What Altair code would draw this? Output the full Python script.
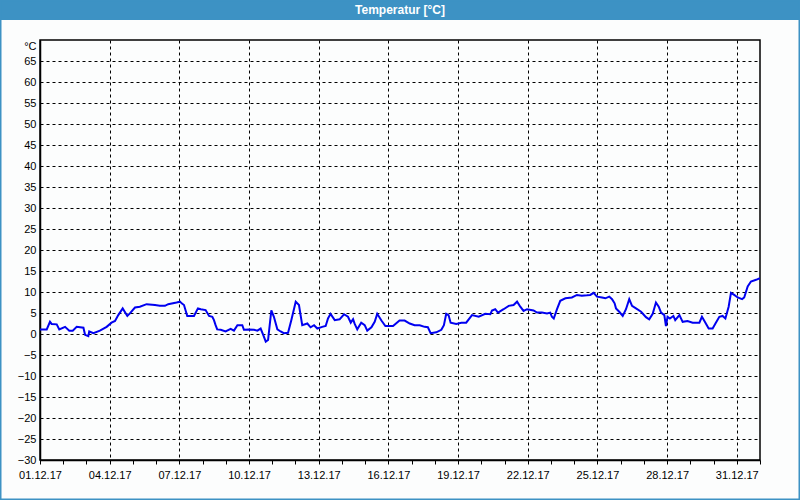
import altair as alt
import pandas as pd

# day offsets from 01.12.2017 00:00 (UTC) and temperature readings in °C
day_offsets = [
    0.00, 0.29, 0.43, 0.50, 0.72, 0.83, 1.08, 1.26, 1.41, 1.58, 1.87, 1.94, 2.08, 2.12,
    2.30, 2.58, 2.87, 3.08, 3.23, 3.37, 3.56, 3.76, 3.87, 4.09, 4.30, 4.59, 4.95, 5.16,
    5.38, 5.52, 5.88, 6.03, 6.10,
    6.20, 6.34, 6.63, 6.80, 6.92, 7.13, 7.28, 7.42, 7.49, 7.56, 7.63, 7.78, 7.99, 8.21,
    8.35, 8.50, 8.71, 8.78, 9.00, 9.21, 9.36, 9.50, 9.61, 9.72, 9.82, 9.96, 10.07, 10.22,
    10.36, 10.50, 10.68, 10.82, 11.01, 11.15, 11.29, 11.51, 11.65, 11.80, 11.94, 12.15, 12.30,
    12.40, 12.51, 12.69, 12.90, 13.09, 13.26, 13.38, 13.48, 13.55, 13.66, 13.83, 13.98, 14.09,
    14.27, 14.41, 14.52, 14.70, 14.87, 15.20, 15.48, 15.70, 15.92, 16.13, 16.35, 16.56, 16.70,
    16.82, 17.06, 17.28, 17.39, 17.49, 17.59, 17.68, 17.92, 18.14, 18.35,
    18.60, 18.89, 19.17, 19.39, 19.46, 19.60, 19.72, 19.96, 20.18, 20.39, 20.54, 20.68, 20.82,
    20.97, 21.25, 21.40, 21.61, 21.83, 21.97, 22.04, 22.12, 22.26, 22.40, 22.62, 22.90, 23.12,
    23.33, 23.55, 23.69, 23.84, 23.98, 24.20, 24.34, 24.51, 24.63, 24.74,
    24.80, 24.94, 25.09, 25.23, 25.37, 25.49, 25.66, 25.88, 26.09, 26.23, 26.38, 26.52, 26.64,
    26.74, 26.88, 26.95, 27.02, 27.12, 27.27, 27.35, 27.53, 27.67, 27.88, 28.10, 28.39, 28.50,
    28.65, 28.79, 28.96, 29.10, 29.25, 29.39, 29.51, 29.65, 29.75, 29.89, 30.04, 30.23, 30.32,
    30.47, 30.61, 30.83, 31.00,
]
temperatures = [
    1.1, 1.1, 2.9, 2.4, 2.3, 1.1, 1.7, 0.8, 0.8, 1.7, 1.5, -0.2, -0.5, 0.6,
    0.2, 0.8, 1.7, 2.7, 3.1, 4.5, 6.1, 4.3, 4.9, 6.3, 6.5, 7.1, 6.9, 6.7,
    6.7, 7.1, 7.5, 7.7, 7.3,
    6.9, 4.3, 4.3, 6.1, 5.9, 5.7, 4.3, 4.1, 3.3, 2.1, 1.1, 1.0, 0.6, 1.2,
    0.8, 2.1, 2.1, 1.0, 1.1, 1.0, 0.8, 1.3, -0.2, -1.8, -1.4, 5.6, 4.1, 1.1,
    0.6, 0.2, 0.3, 3.3, 7.7, 6.9, 2.1, 2.5, 1.6, 2.1, 1.3, 1.7, 1.9,
    3.7, 4.8, 3.3, 3.5, 4.7, 4.1, 2.7, 3.5, 2.4, 1.1, 2.7, 2.1, 0.8,
    1.6, 2.9, 4.8, 3.2, 1.9, 1.9, 3.2, 3.2, 2.5, 2.1, 2.1, 1.7, 1.6,
    0.2, 0.4, 1.0, 2.1, 4.8, 4.5, 2.7, 2.4, 2.7, 2.7,
    4.5, 4.1, 4.8, 4.7, 5.6, 5.9, 5.1, 5.9, 6.7, 6.9, 7.7, 6.5, 5.5,
    5.9, 5.6, 5.1, 5.1, 4.9, 5.1, 4.1, 3.7, 5.9, 7.9, 8.5, 8.7, 9.3,
    9.1, 9.2, 9.3, 9.8, 8.9, 8.7, 8.5, 8.9, 8.3, 7.3,
    6.1, 5.3, 4.3, 5.9, 8.3, 6.7, 6.1, 5.3, 4.0, 3.5, 4.8, 7.5, 6.5,
    5.1, 4.5, 1.9, 4.1, 3.7, 4.3, 3.3, 4.5, 2.9, 3.1, 2.7, 2.7, 4.1,
    2.7, 1.3, 1.3, 2.7, 4.1, 4.3, 3.7, 6.5, 9.8, 9.3, 8.7, 8.3, 8.7,
    11.3, 12.5, 12.9, 13.3,
]
y_ticks = list(range(-30, 70, 5))
chart_title = ["Temperatur [°C]"]

base = pd.Timestamp("2017-12-01")
times = (base + pd.to_timedelta(day_offsets, unit="D")).strftime("%Y-%m-%dT%H:%M:%SZ")
df = pd.DataFrame({"time": list(times), "temp": temperatures})

FONT = "Liberation Sans"
BLUE = "#3d92c4"

x_values = [alt.DateTime(year=2017, month=12, date=d, utc=True) for d in range(1, 32)] + [
    alt.DateTime(year=2018, month=1, date=1, utc=True)
]
major = "(utcdate(datum.value) - 1) % 3 == 0 && utcmonth(datum.value) == 11"

line = alt.Chart(df).mark_line(color="#0000f0", strokeWidth=2, clip=True).encode(
    x=alt.X(
        "time:T",
        scale=alt.Scale(
            type="utc",
            domain=[
                alt.DateTime(year=2017, month=12, date=1, utc=True),
                alt.DateTime(year=2018, month=1, date=1, utc=True),
            ],
            nice=False,
        ),
        axis=alt.Axis(
            title=None,
            values=x_values,
            labelExpr=f"{major} ? utcFormat(datum.value, '%d.%m.%y') : ''",
            labelFont=FONT,
            labelFontSize=11,
            labelColor="black",
            labelFlush=False,
            labelOverlap=False,
            labelBound=False,
            labelPadding=5,
            tickSize=4,
            tickColor="black",
            domainColor="black",
            domainWidth=1.5,
            grid=True,
            gridColor="black",
            gridDash=[3, 3],
            gridWidth=1,
            gridOpacity={"condition": {"test": major, "value": 1}, "value": 0},
        ),
    ),
    y=alt.Y(
        "temp:Q",
        scale=alt.Scale(domain=[-30, 70], nice=False),
        axis=alt.Axis(
            values=y_ticks,
            title="°C",
            titleAngle=0,
            titleX=-4,
            titleY=6,
            titleAlign="right",
            titleBaseline="middle",
            titleFont=FONT,
            titleFontSize=11,
            titleFontWeight="normal",
            titleColor="black",
            labelFont=FONT,
            labelFontSize=11,
            labelColor="black",
            labelPadding=4,
            ticks=False,
            domainColor="black",
            domainWidth=1.5,
            grid=True,
            gridColor="black",
            gridDash=[3, 3],
            gridWidth=1,
            gridOpacity=1,
        ),
    ),
)

one = pd.DataFrame({"t": chart_title})

title_bar = alt.Chart(one).mark_rect(color=BLUE).encode(
    x=alt.value(-40), x2=alt.value(760), y=alt.value(-40), y2=alt.value(-20)
)
title_text = alt.Chart(one).mark_text(
    color="white", font=FONT, fontSize=12, fontWeight="bold", align="center", baseline="middle"
).encode(x=alt.value(360), y=alt.value(-30), text="t:N")
border = alt.Chart(one).mark_rect(fill=None, stroke=BLUE, strokeWidth=3).encode(
    x=alt.value(-40), x2=alt.value(760), y=alt.value(-40), y2=alt.value(460)
)

chart = alt.layer(line, title_bar, title_text, border).properties(
    width=720,
    height=420,
    padding={"left": 40, "top": 40, "right": 40, "bottom": 40},
    autosize=alt.AutoSizeParams(type="none"),
    background="#fcfdfd",
).configure_view(stroke="black", strokeWidth=1.5)

chart.save("out.html", embed_options={"renderer": "svg", "actions": False})
